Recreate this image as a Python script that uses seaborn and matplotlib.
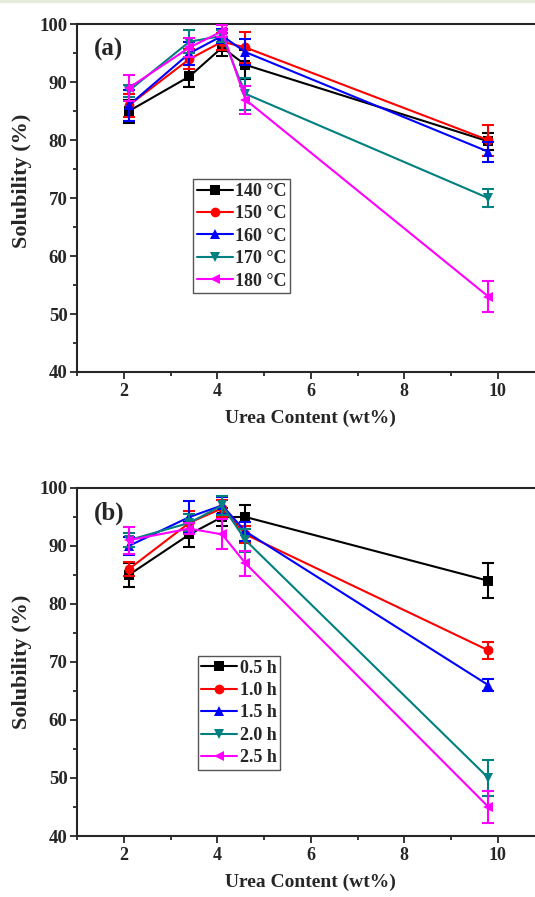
import numpy as np
import pandas as pd
import matplotlib
matplotlib.use("Agg")
import matplotlib.pyplot as plt
from matplotlib.ticker import MultipleLocator
from matplotlib.patches import Rectangle
import seaborn as sns

# ---- data ----
urea = [2.1, 3.4, 4.1, 4.6, 9.8]

temp_labels = ["140 °C", "150 °C", "160 °C", "170 °C", "180 °C"]
temp_140 = [85.0, 91.0, 96.0, 93.0, 79.8]
temp_150 = [86.0, 94.0, 97.0, 96.0, 80.0]
temp_160 = [86.0, 95.0, 98.0, 95.2, 78.0]
temp_170 = [88.5, 97.0, 98.0, 88.0, 70.0]
temp_180 = [89.0, 96.0, 98.8, 87.0, 53.0]
temp_140_err = [2.0, 1.9, 1.5, 2.5, 1.5]
temp_150_err = [2.0, 1.7, 1.5, 2.6, 2.7]
temp_160_err = [2.7, 2.0, 1.2, 2.2, 1.7]
temp_170_err = [1.0, 2.0, 1.0, 2.8, 1.5]
temp_180_err = [2.2, 1.7, 1.0, 2.4, 2.7]

time_labels = ["0.5 h", "1.0 h", "1.5 h", "2.0 h", "2.5 h"]
time_05 = [85.0, 92.0, 95.0, 95.0, 84.0]
time_10 = [86.0, 94.0, 96.5, 92.0, 72.0]
time_15 = [90.0, 95.0, 97.0, 92.5, 66.0]
time_20 = [91.0, 94.0, 97.0, 91.0, 50.0]
time_25 = [91.0, 93.0, 92.0, 87.0, 45.0]
time_05_err = [2.0, 2.2, 1.5, 2.0, 3.0]
time_10_err = [1.2, 2.0, 1.5, 1.5, 1.4]
time_15_err = [1.5, 2.8, 1.5, 1.7, 1.0]
time_20_err = [1.2, 1.5, 1.7, 2.0, 3.1]
time_25_err = [2.3, 1.0, 2.6, 2.1, 2.7]

colors = ["#000000", "#FF0000", "#0000FF", "#008080", "#FF00FF"]
markers = ["s", "o", "^", "v", "<"]

sns.set_style("ticks")
plt.rcParams["font.family"] = ["Liberation Serif", "DejaVu Serif"]
plt.rcParams["font.weight"] = "bold"
plt.rcParams["axes.labelweight"] = "bold"
plt.rcParams["mathtext.default"] = "bf"

fig = plt.figure(figsize=(5.35, 8.97), dpi=100)
fig.patches.append(Rectangle((0, 1 - 2.5 / 897), 1, 2.5 / 897, transform=fig.transFigure,
                             color="#e4eddb", zorder=0))

W, H = 535.0, 897.0
def make_ax(top_px, bottom_px):
    left_px, right_px = 77.3, 544.5
    return fig.add_axes([left_px / W, 1 - bottom_px / H, (right_px - left_px) / W,
                         (bottom_px - top_px) / H])

ax_a = make_ax(24.3, 372.0)
ax_b = make_ax(488.0, 836.0)

def draw(ax, series, errs, labels, tag, legend_box, ylab_y):
    for i, (vals, err, lab) in enumerate(zip(series, errs, labels)):
        df = pd.DataFrame({"x": urea, "y": vals})
        ax.errorbar(urea, vals, yerr=err, fmt="none", ecolor=colors[i], elinewidth=1.5,
                    capsize=4, capthick=1.5, zorder=2 + i)
        sns.lineplot(data=df, x="x", y="y", ax=ax, color=colors[i], marker=markers[i],
                     markersize=7, markeredgewidth=0, linewidth=1.5, label=lab,
                     zorder=2.5 + i, legend=False)
    ax.set_xlim(1, 11)
    ax.set_ylim(40, 100)
    ax.xaxis.set_major_locator(MultipleLocator(2))
    ax.xaxis.set_minor_locator(MultipleLocator(1))
    ax.yaxis.set_major_locator(MultipleLocator(10))
    ax.yaxis.set_minor_locator(MultipleLocator(5))
    ax.tick_params(axis="both", which="major", direction="out", length=5, width=1.3, pad=2)
    ax.tick_params(axis="x", which="major", labelsize=13, pad=3)
    ax.tick_params(axis="y", which="major", labelsize=13.5)
    ax.tick_params(axis="both", which="minor", direction="out", length=3, width=1.3)
    for lbl in ax.get_xticklabels() + ax.get_yticklabels():
        lbl.set_fontweight("bold")
    for side in ["left", "bottom", "top"]:
        ax.spines[side].set_linewidth(1.5)
        ax.spines[side].set_visible(True)
    ax.spines["right"].set_visible(False)
    ax.set_xlabel("Urea Content (wt%)", fontsize=14, fontweight="bold", labelpad=7)
    ax.set_ylabel("Solubility (%)", fontsize=16, fontweight="bold", labelpad=3)
    ax.yaxis.set_label_coords(-0.096, ylab_y)
    ax.text(0.035, 0.96, tag, transform=ax.transAxes, fontsize=18, fontweight="bold",
            va="top", ha="left")
    leg = ax.legend(loc="upper left", bbox_to_anchor=legend_box, frameon=True, fancybox=False,
                    edgecolor="#555555", framealpha=1, fontsize=13, handlelength=2.0,
                    handletextpad=0.12, borderpad=0.2, labelspacing=0.3, borderaxespad=0)
    leg.get_frame().set_linewidth(1.0)
    for t in leg.get_texts():
        t.set_fontweight("bold")

draw(ax_a, [temp_140, temp_150, temp_160, temp_170, temp_180],
     [temp_140_err, temp_150_err, temp_160_err, temp_170_err, temp_180_err],
     temp_labels, "(a)", ((193.3 - 77.3) / 467.2, 1 - (179.3 - 24.3) / 347.7), 0.55)
draw(ax_b, [time_05, time_10, time_15, time_20, time_25],
     [time_05_err, time_10_err, time_15_err, time_20_err, time_25_err],
     time_labels, "(b)", ((197.7 - 77.3) / 467.2, 1 - (656.0 - 488.0) / 348.0), 0.5)

fig.savefig("out.png", dpi=100)
